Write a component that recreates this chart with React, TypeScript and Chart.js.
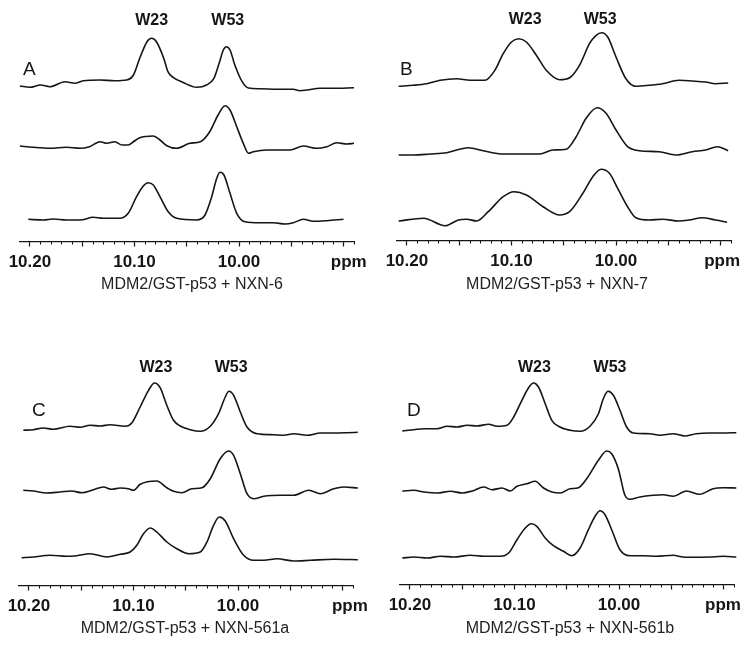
import React, { useEffect, useRef } from 'react';
import { Chart, registerables } from 'chart.js';

Chart.register(...registerables);

type Pt = [number, number]; // [ppm, intensity]

// ---------- data: chemical shift (ppm) vs intensity (arbitrary units) ----------
const A_TOP: Pt[] = [[10.2096,2],[10.2,0.7],[10.19,3],[10.181,1.3],[10.1665,6.3],[10.157,4.7],[10.149,7.3],[10.133,8],[10.119,7.3],[10.1075,8],[10.101,13],[10.095,29.7],[10.088,46.3],[10.0836,49.7],[10.079,46.3],[10.072,29.7],[10.068,16.3],[10.063,10.7],[10.053,5.3],[10.0405,0.7],[10.031,3],[10.024,9.7],[10.019,24.7],[10.015,38],[10.012,41.3],[10.0086,38],[10.004,23],[9.997,6.3],[9.991,0],[9.98,-0.7],[9.961,-1.3],[9.948,-1.3],[9.942,-2.7],[9.935,-2],[9.9225,-0.3],[9.91,-0.3],[9.89,0.3]];
const A_MID: Pt[] = [[10.2096,2],[10.197,0.7],[10.181,-0.3],[10.165,0.7],[10.152,-0.3],[10.143,1.3],[10.133,6.3],[10.1266,4.7],[10.1187,6.3],[10.112,3],[10.106,3],[10.101,6.3],[10.095,10.3],[10.082,12],[10.0756,8],[10.069,2.3],[10.0596,-0.3],[10.047,4.7],[10.037,6.3],[10.028,16.3],[10.02,33],[10.0134,42.3],[10.0086,38],[10.0022,21.3],[9.9959,4.7],[9.991,-5.3],[9.9863,-3.7],[9.9735,-2],[9.9512,-2],[9.9385,2],[9.9257,-0.3],[9.916,1.3],[9.9065,5.3],[9.897,4],[9.89,4.7]];
const A_BOT: Pt[] = [[10.2016,0.7],[10.187,0],[10.178,1],[10.165,0],[10.152,0],[10.1394,2.7],[10.13,1.7],[10.114,1.7],[10.106,6.7],[10.098,23.3],[10.0916,34],[10.0868,37.3],[10.082,35],[10.0756,23.3],[10.0677,8.3],[10.0596,1.7],[10.0405,0],[10.0325,5],[10.0261,23.3],[10.0213,41.7],[10.0182,47.7],[10.0144,45],[10.0086,26.7],[10.0022,6.7],[9.9943,-1.7],[9.98,-2.7],[9.967,-2.7],[9.956,-4],[9.948,-2.7],[9.9385,0.7],[9.929,-1.3],[9.916,-0.7],[9.9,0.7]];

const B_TOP: Pt[] = [[10.2079,-0.3],[10.1937,0.7],[10.181,2.3],[10.1683,5.7],[10.1524,7.3],[10.1397,5.7],[10.1254,5.7],[10.1159,15.7],[10.1079,32.3],[10.1,44],[10.093,47.3],[10.0857,44],[10.0762,30.7],[10.0667,15.7],[10.054,6.3],[10.0444,8.3],[10.0349,20.7],[10.0254,42.3],[10.019,50.7],[10.0137,53.3],[10.0079,49],[10.0,29],[9.9905,7.3],[9.981,-0.3],[9.9683,0.7],[9.9556,2.3],[9.9397,5.7],[9.927,5],[9.9143,4],[9.9048,2.3],[9.8927,3]];
const B_MID: Pt[] = [[10.2079,-1],[10.1937,-1],[10.1778,0],[10.1619,1.3],[10.1413,6.3],[10.127,3.3],[10.1079,0],[10.0921,0],[10.073,0],[10.0603,4],[10.0476,4.7],[10.0381,17.3],[10.0286,35.7],[10.0181,46.3],[10.0095,40.7],[10.0,24],[9.9889,7.3],[9.9778,3.3],[9.9587,2.3],[9.9429,-1],[9.927,2.3],[9.9143,4],[9.9032,7.3],[9.8927,3.3]];
const B_BOT: Pt[] = [[10.2079,-1],[10.1841,1.7],[10.1635,-5.7],[10.1508,0],[10.1429,0.7],[10.1333,-1],[10.1222,8.3],[10.1079,23.3],[10.0978,28.3],[10.0857,25],[10.0698,13.3],[10.054,5],[10.0444,8.3],[10.0317,26.7],[10.0222,43.3],[10.0143,50.7],[10.0063,46.7],[9.9984,31.7],[9.9889,13.3],[9.981,2.3],[9.9683,0],[9.9556,0.7],[9.9397,-1],[9.9302,0],[9.9175,2.3],[9.9048,0],[9.8937,-2.3]];

const C_TOP: Pt[] = [[10.2054,0.7],[10.1958,1.3],[10.1863,3],[10.1767,1.7],[10.1607,4.7],[10.1511,3.7],[10.1415,5.7],[10.132,5],[10.1224,6.3],[10.108,4.7],[10.1016,8],[10.0936,24],[10.0856,40.7],[10.0799,48],[10.0745,43.3],[10.0681,25.7],[10.0617,10.7],[10.0553,5],[10.0457,1.3],[10.0361,-0.3],[10.0265,4.7],[10.0186,17.3],[10.0122,34],[10.0087,39.7],[10.0042,35.7],[9.9978,19],[9.9914,4],[9.9818,-2.7],[9.9659,-3.7],[9.9563,-4.3],[9.9467,-2.7],[9.9339,-4.3],[9.9211,-2],[9.9084,-2],[9.8956,-1.7],[9.8854,-1.3]];
const C_MID: Pt[] = [[10.2054,0.7],[10.1958,0],[10.1831,-2],[10.1703,-1],[10.1591,0],[10.1495,-1.7],[10.1383,1.3],[10.1288,4],[10.1208,1.7],[10.1128,3],[10.1048,2.3],[10.1,0.7],[10.0936,6.7],[10.0777,10],[10.0681,3.3],[10.0617,-0.3],[10.0537,-1.7],[10.0441,2.3],[10.0345,3.3],[10.0265,12.3],[10.017,32.3],[10.009,40],[10.0042,35.7],[9.9978,17.3],[9.9914,-2.7],[9.985,-7.7],[9.9754,-5.3],[9.9595,-4.3],[9.9467,-4.3],[9.9323,0.7],[9.9211,-2.7],[9.9084,2.3],[9.8988,4],[9.8854,3]];
const C_BOT: Pt[] = [[10.207,-0.7],[10.1958,0],[10.1799,1.7],[10.1639,0.7],[10.1543,1.3],[10.1415,3.3],[10.1256,0],[10.1128,2.7],[10.1032,5],[10.0968,11.7],[10.0904,23.3],[10.084,29],[10.0777,25],[10.0681,15],[10.0585,8.3],[10.0473,3.3],[10.0361,5],[10.0297,15],[10.0234,31.7],[10.0179,40],[10.0122,36],[10.0042,18.3],[9.9946,1.7],[9.985,-3.3],[9.9754,-3.3],[9.9627,-1.7],[9.9467,-4],[9.9307,-3.3],[9.9084,-2.3],[9.8854,-2.7]];

const D_TOP: Pt[] = [[10.2073,1],[10.1962,2.3],[10.1866,3.3],[10.1739,3.3],[10.1644,5.7],[10.1549,5],[10.1453,6.7],[10.1358,6],[10.1247,7.7],[10.1167,5.7],[10.1072,6.7],[10.1008,15],[10.0929,31.7],[10.0865,44.3],[10.0817,49],[10.077,45],[10.0706,28.3],[10.0643,11.7],[10.0579,5.7],[10.0468,1.7],[10.0372,0.7],[10.0277,5.7],[10.0197,18.3],[10.015,33.3],[10.0105,40.7],[10.0054,36.7],[9.9991,21.7],[9.9927,5],[9.9864,-1],[9.9705,-1.7],[9.9609,-3.3],[9.9482,-1.7],[9.9371,-4],[9.926,-1.7],[9.9132,-1],[9.9005,-1],[9.8878,-0.7]];
const D_MID: Pt[] = [[10.2073,0],[10.1962,0.7],[10.1866,-1],[10.1739,-2],[10.1612,-0.3],[10.1501,-2],[10.1405,0],[10.1294,4],[10.1215,1.3],[10.1119,3],[10.104,0],[10.0976,4.7],[10.0881,7.3],[10.0801,9.7],[10.0722,3],[10.0642,-1],[10.0563,-2],[10.0468,2.3],[10.0388,3.3],[10.0309,12.3],[10.0197,30.7],[10.0118,40],[10.007,37.3],[10.0007,22.3],[9.9943,-4.3],[9.9895,-8.3],[9.98,-6],[9.9673,-4.3],[9.9578,-3.7],[9.9482,-5.3],[9.9355,0],[9.9228,-3.3],[9.9101,2.3],[9.9005,3.3],[9.8878,3]];
const D_BOT: Pt[] = [[10.2073,-1],[10.1962,0],[10.1835,-1],[10.1708,0.7],[10.158,0],[10.1421,1.7],[10.1294,0.7],[10.1135,0.7],[10.1056,4],[10.0976,17.3],[10.0897,29],[10.084,33.3],[10.0786,30.7],[10.0706,19],[10.0627,11.3],[10.0531,5.7],[10.0452,1.3],[10.0372,9],[10.0293,27.3],[10.0229,40.7],[10.0182,46.3],[10.0134,42.3],[10.007,27.3],[9.9991,7.3],[9.9895,1.3],[9.9768,1.3],[9.9641,0.7],[9.9482,1.7],[9.9387,0],[9.926,-0.3],[9.9132,0],[9.9005,0.7],[9.8878,0]];

// vertical stacking offsets of the three spectra in each panel (top, middle, bottom)
const A_OFFSETS = [154, 94, 22];
const B_OFFSETS = [155, 87, 21];
const C_OFFSETS = [155, 95, 29];
const D_OFFSETS = [153, 94, 28];

// peak assignments (ppm of W23, W53 labels)
const PEAK_NAMES = ['W23', 'W53'];
const A_PEAKS = [10.0836, 10.0107];
const B_PEAKS = [10.0869, 10.0151];
const C_PEAKS = [10.0785, 10.0066];
const D_PEAKS = [10.0809, 10.0086];

const PANEL_LETTERS = ['A', 'B', 'C', 'D'];
const CAPTIONS = ['MDM2/GST-p53 + NXN-6', 'MDM2/GST-p53 + NXN-7', 'MDM2/GST-p53 + NXN-561a', 'MDM2/GST-p53 + NXN-561b'];
const TICK_LABEL_VALUES = [10.2, 10.1, 10.0];
const AXIS_UNIT = 'ppm';
const X_MIN = 9.89;
const X_MAX = 10.2095;

// ---------- styling / layout ----------
const INK = '#151515';
const FONT = '"Liberation Sans", Arial, Helvetica, sans-serif';

type Panel = {
  left: number; top: number; w: number; h: number;
  padL: number; padR: number; axisY: number;
  traces: Pt[][]; offsets: number[]; peaks: number[]; peakY: number;
  letter: string; letterX: number; letterY: number;
  caption: string; capX: number; capY: number; unitAt: number;
};

const PANELS: Panel[] = [
  { left: 0, top: 0, w: 370, h: 300, padL: 20, padR: 16, axisY: 242, traces: [A_TOP, A_MID, A_BOT], offsets: A_OFFSETS, peaks: A_PEAKS, peakY: 21, letter: PANEL_LETTERS[0], letterX: 23, letterY: 70, caption: CAPTIONS[0], capX: 192, capY: 285, unitAt: 9.895 },
  { left: 370, top: 0, w: 371, h: 300, padL: 27, padR: 10, axisY: 241, traces: [B_TOP, B_MID, B_BOT], offsets: B_OFFSETS, peaks: B_PEAKS, peakY: 20, letter: PANEL_LETTERS[1], letterX: 400, letterY: 70, caption: CAPTIONS[1], capX: 557, capY: 285, unitAt: 9.8985 },
  { left: 0, top: 300, w: 370, h: 346, padL: 19, padR: 17, axisY: 286, traces: [C_TOP, C_MID, C_BOT], offsets: C_OFFSETS, peaks: C_PEAKS, peakY: 368, letter: PANEL_LETTERS[2], letterX: 32, letterY: 411, caption: CAPTIONS[2], capX: 185, capY: 629, unitAt: 9.893 },
  { left: 370, top: 300, w: 371, h: 346, padL: 30, padR: 7, axisY: 285, traces: [D_TOP, D_MID, D_BOT], offsets: D_OFFSETS, peaks: D_PEAKS, peakY: 368, letter: PANEL_LETTERS[3], letterX: 407, letterY: 411, caption: CAPTIONS[3], capX: 570, capY: 629, unitAt: 9.9005 },
];

const isMajor = (v: number) => Math.abs(v * 20 - Math.round(v * 20)) < 1e-6;
const isLabelled = (v: number) => TICK_LABEL_VALUES.some((t) => Math.abs(t - v) < 1e-6);

function buildChart(canvas: HTMLCanvasElement, p: Panel) {
  const axisH = p.h - p.axisY;
  const datasets = p.traces.map((tr, i) => ({
    data: tr.map(([x, y]) => ({ x, y: y + p.offsets[i] })),
    borderColor: INK,
    borderWidth: 1.6,
    pointRadius: 0,
    fill: false,
    cubicInterpolationMode: 'monotone' as const,
    clip: false as any,
  }));

  const annot = {
    id: 'annot',
    afterDraw(chart: any) {
      const ctx = chart.ctx as CanvasRenderingContext2D;
      const xs = chart.scales.x;
      const area = chart.chartArea;
      ctx.save();
      // minor ticks
      ctx.strokeStyle = INK;
      ctx.lineWidth = 1;
      for (const t of xs.ticks) {
        if (isMajor(t.value)) continue;
        const px = Math.round(xs.getPixelForValue(t.value)) + 0.5;
        ctx.beginPath();
        ctx.moveTo(px, area.bottom);
        ctx.lineTo(px, area.bottom + 2.5);
        ctx.stroke();
      }
      ctx.fillStyle = INK;
      ctx.textBaseline = 'middle';
      // peak labels
      ctx.font = `bold 16px ${FONT}`;
      ctx.textAlign = 'center';
      p.peaks.forEach((ppm, i) => ctx.fillText(PEAK_NAMES[i], xs.getPixelForValue(ppm), p.peakY - p.top));
      // unit label
      ctx.font = `bold 17px ${FONT}`;
      ctx.fillText(AXIS_UNIT, xs.getPixelForValue(p.unitAt), area.bottom + 20.5);
      // caption
      ctx.font = `16px ${FONT}`;
      ctx.fillStyle = '#222';
      ctx.fillText(p.caption, p.capX - p.left, p.capY - p.top);
      // panel letter
      ctx.font = `19px ${FONT}`;
      ctx.textAlign = 'left';
      ctx.fillStyle = INK;
      ctx.fillText(p.letter, p.letterX - p.left, p.letterY - p.top);
      ctx.restore();
    },
  };

  return new Chart(canvas, {
    type: 'line',
    data: { datasets },
    options: {
      responsive: false,
      animation: false,
      events: [],
      layout: { padding: { left: p.padL, right: p.padR, top: 0, bottom: 0 } },
      plugins: { legend: { display: false }, tooltip: { enabled: false }, title: { display: false } },
      scales: {
        x: {
          type: 'linear',
          reverse: true,
          min: X_MIN,
          max: X_MAX,
          afterFit: (scale: any) => { scale.height = axisH; },
          border: { display: true, color: INK, width: 1.2 },
          grid: {
            display: true,
            drawOnChartArea: false,
            drawTicks: true,
            tickLength: 4.5,
            tickWidth: 1.2,
            tickColor: (c: any) => (c.tick && isMajor(c.tick.value) ? INK : 'rgba(0,0,0,0)'),
          },
          ticks: {
            stepSize: 0.01,
            autoSkip: false,
            includeBounds: false,
            maxRotation: 0,
            minRotation: 0,
            padding: 6,
            color: INK,
            font: { family: FONT, size: 17, weight: 'bold' },
            callback: (v: any) => (isLabelled(Number(v)) ? Number(v).toFixed(2) : ''),
          },
        },
        y: {
          type: 'linear',
          display: false,
          min: 0,
          max: p.axisY,
        },
      },
    } as any,
    plugins: [annot],
  });
}

function PanelChart({ p }: { p: Panel }) {
  const ref = useRef<HTMLCanvasElement>(null);
  useEffect(() => {
    if (!ref.current) return;
    const chart = buildChart(ref.current, p);
    return () => chart.destroy();
  }, [p]);
  return (
    <canvas
      ref={ref}
      width={p.w}
      height={p.h}
      style={{ position: 'absolute', left: p.left, top: p.top, width: p.w, height: p.h }}
    />
  );
}

export default function App() {
  return (
    <div style={{ position: 'absolute', left: 0, top: 0, width: 741, height: 646, background: '#fff', overflow: 'hidden' }}>
      {PANELS.map((p, i) => (
        <PanelChart key={i} p={p} />
      ))}
    </div>
  );
}
